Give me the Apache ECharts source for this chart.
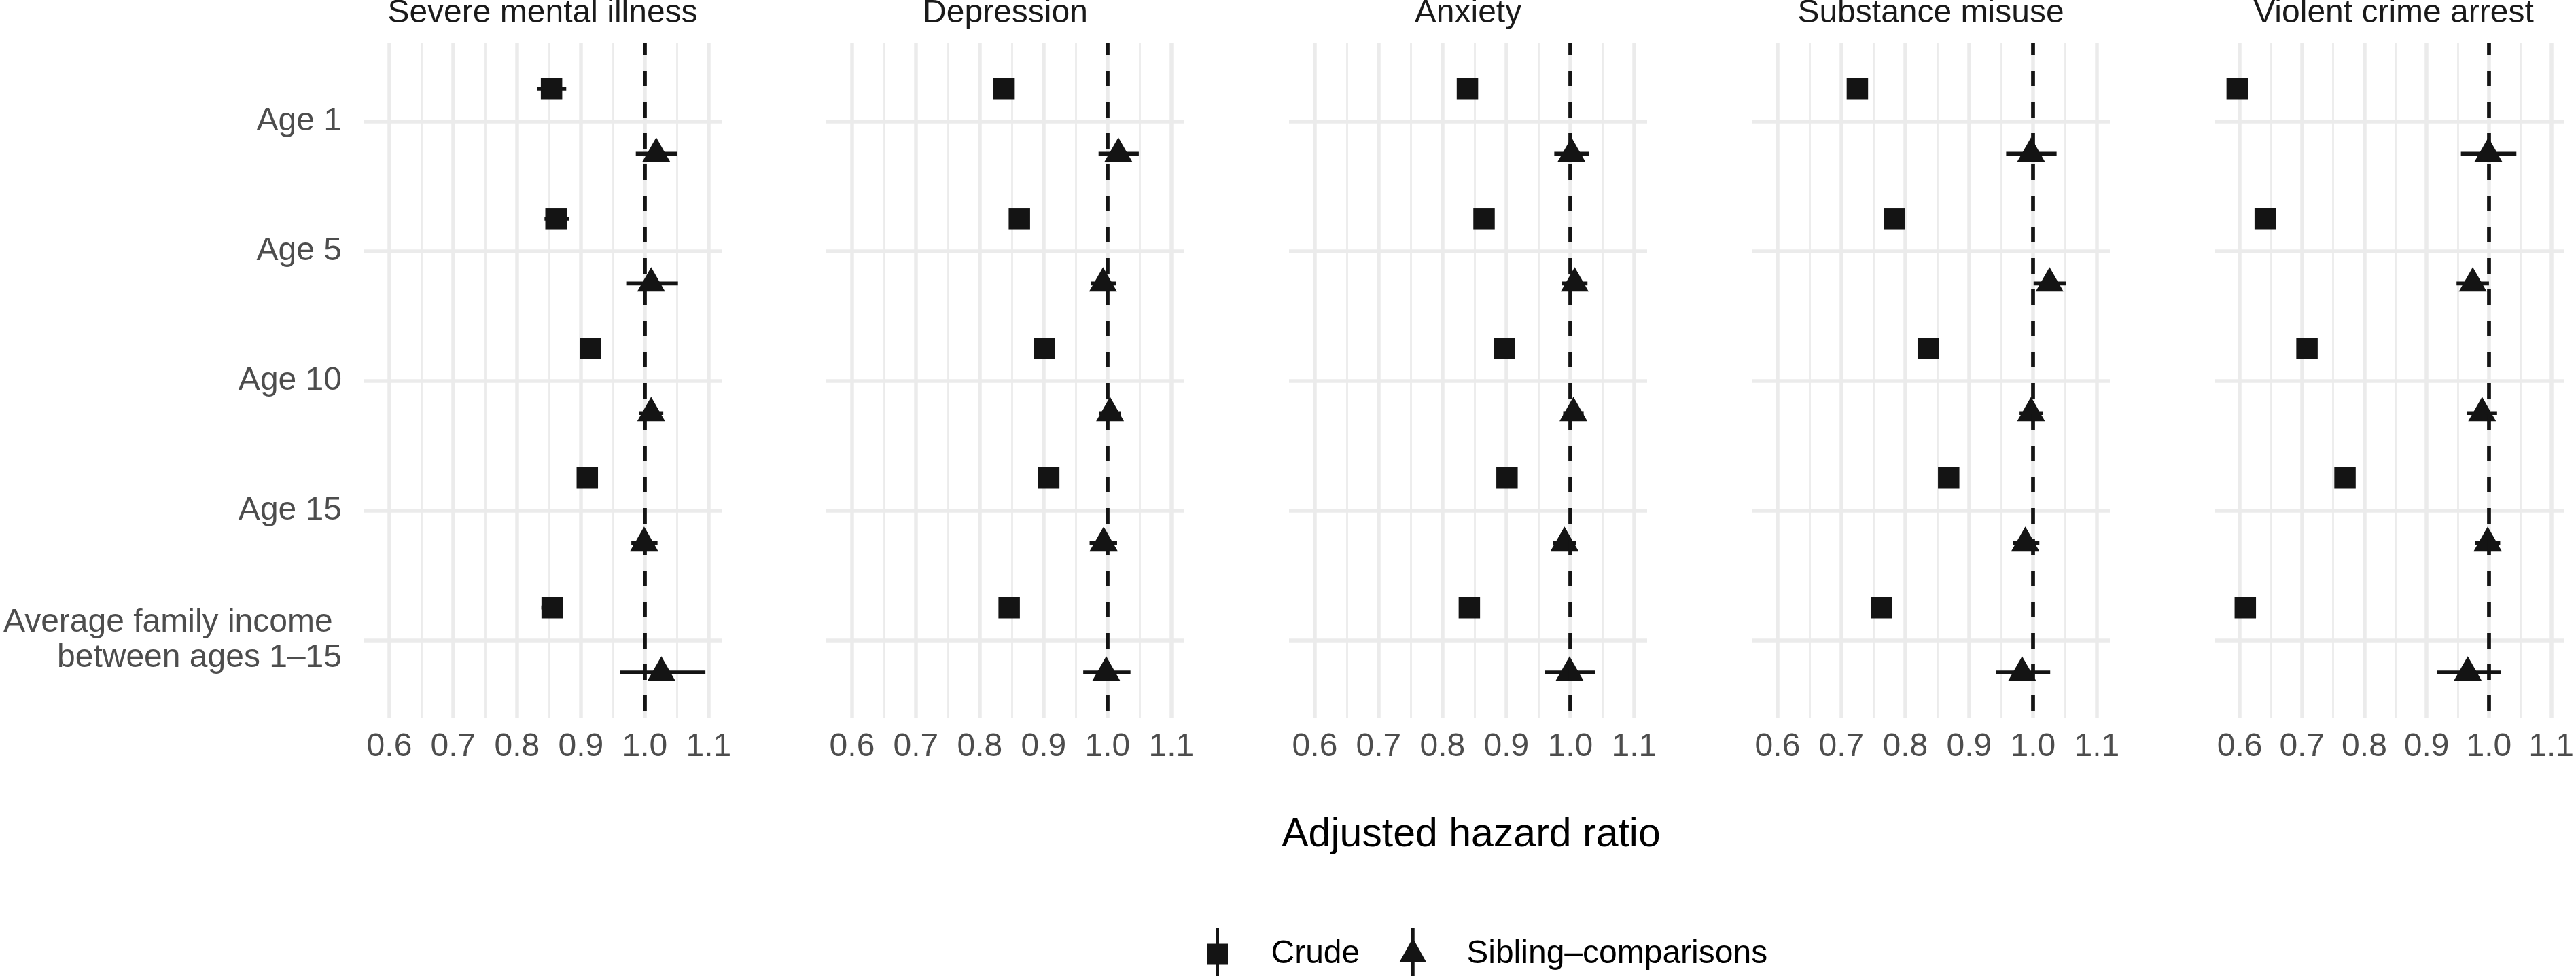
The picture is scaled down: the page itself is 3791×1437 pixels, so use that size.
<!DOCTYPE html>
<html>
<head>
<meta charset="utf-8">
<script src="https://cdn.jsdelivr.net/npm/echarts@6/dist/echarts.min.js"></script>
<style>
html,body{margin:0;padding:0;background:#ffffff;}
#chart{width:3791px;height:1437px;}
</style>
</head>
<body>
<div id="chart"></div>
<script>
// ---------- data ----------
const categories = ['Age 1', 'Age 5', 'Age 10', 'Age 15', 'Average family income \nbetween ages 1\u201315'];
const outcomes = ['Severe mental illness', 'Depression', 'Anxiety', 'Substance misuse', 'Violent crime arrest'];
const xMajorTicks = [0.6, 0.7, 0.8, 0.9, 1.0, 1.1];
const xMinorTicks = [0.65, 0.75, 0.85, 0.95, 1.05];
const xTickLabels = ['0.6', '0.7', '0.8', '0.9', '1.0', '1.1'];
const seriesNames = ['Crude', 'Sibling\u2013comparisons'];
const referenceLine = 1.0;

// Severe mental illness
const smiCrude   = [0.854, 0.861, 0.915, 0.910, 0.855];
const smiCrudeLo = [0.832, 0.843, 0.906, 0.901, 0.838];
const smiCrudeHi = [0.877, 0.881, 0.924, 0.919, 0.872];
const smiSib     = [1.018, 1.010, 1.010, 0.999, 1.026];
const smiSibLo   = [0.986, 0.971, 0.991, 0.979, 0.961];
const smiSibHi   = [1.051, 1.052, 1.029, 1.020, 1.095];

// Depression
const depCrude   = [0.838, 0.862, 0.901, 0.908, 0.846];
const depCrudeLo = [0.829, 0.853, 0.893, 0.899, 0.836];
const depCrudeHi = [0.847, 0.871, 0.909, 0.917, 0.855];
const depSib     = [1.017, 0.993, 1.004, 0.994, 0.998];
const depSibLo   = [0.986, 0.974, 0.987, 0.972, 0.962];
const depSibHi   = [1.049, 1.013, 1.021, 1.015, 1.036];

// Anxiety
const anxCrude   = [0.839, 0.865, 0.897, 0.901, 0.842];
const anxCrudeLo = [0.830, 0.856, 0.889, 0.892, 0.833];
const anxCrudeHi = [0.848, 0.874, 0.905, 0.910, 0.851];
const anxSib     = [1.002, 1.007, 1.005, 0.991, 0.999];
const anxSibLo   = [0.975, 0.987, 0.989, 0.973, 0.960];
const anxSibHi   = [1.029, 1.027, 1.021, 1.009, 1.039];

// Substance misuse
const subCrude   = [0.725, 0.783, 0.836, 0.868, 0.763];
const subCrudeLo = [0.715, 0.774, 0.828, 0.859, 0.753];
const subCrudeHi = [0.735, 0.792, 0.844, 0.877, 0.773];
const subSib     = [0.997, 1.026, 0.997, 0.988, 0.983];
const subSibLo   = [0.958, 1.001, 0.979, 0.969, 0.942];
const subSibHi   = [1.037, 1.052, 1.016, 1.010, 1.027];

// Violent crime arrest
const vioCrude   = [0.596, 0.641, 0.708, 0.769, 0.609];
const vioCrudeLo = [0.586, 0.631, 0.699, 0.760, 0.598];
const vioCrudeHi = [0.606, 0.651, 0.717, 0.778, 0.620];
const vioSib     = [0.999, 0.974, 0.989, 0.998, 0.966];
const vioSibLo   = [0.955, 0.948, 0.965, 0.978, 0.917];
const vioSibHi   = [1.044, 1.000, 1.013, 1.018, 1.019];

// ---------- assemble ----------
const panels = [
  {crude: smiCrude, crudeLo: smiCrudeLo, crudeHi: smiCrudeHi, sib: smiSib, sibLo: smiSibLo, sibHi: smiSibHi},
  {crude: depCrude, crudeLo: depCrudeLo, crudeHi: depCrudeHi, sib: depSib, sibLo: depSibLo, sibHi: depSibHi},
  {crude: anxCrude, crudeLo: anxCrudeLo, crudeHi: anxCrudeHi, sib: anxSib, sibLo: anxSibLo, sibHi: anxSibHi},
  {crude: subCrude, crudeLo: subCrudeLo, crudeHi: subCrudeHi, sib: subSib, sibLo: subSibLo, sibHi: subSibHi},
  {crude: vioCrude, crudeLo: vioCrudeLo, crudeHi: vioCrudeHi, sib: vioSib, sibLo: vioSibLo, sibHi: vioSibHi}
];

const FONT = '"Liberation Sans", Arial, Helvetica, sans-serif';
const FS = 48;
const GRID_LEFT0 = 535, GRID_STEP = 681, GRID_W = 527, GRID_TOP = 64, GRID_H = 993;
const X_MIN = 0.5596, X_MAX = 1.1204;
const Y_MIN = -0.6, Y_MAX = 4.6;
const DODGE = 0.25;
const GRIDCOL = '#ebebeb';
const INK = '#141414';

const grids = [], xAxes = [], yAxes = [], series = [], graphics = [];
const catIdx = categories.map((c, i) => i);

function errorBarRender(params, api) {
  const p1 = api.coord([api.value(0), api.value(2)]);
  const p2 = api.coord([api.value(1), api.value(2)]);
  return {
    type: 'line',
    shape: {x1: p1[0], y1: p1[1], x2: p2[0], y2: p2[1]},
    style: {stroke: INK, lineWidth: 5.7, lineCap: 'butt'}
  };
}

panels.forEach((p, k) => {
  grids.push({left: GRID_LEFT0 + GRID_STEP * k, top: GRID_TOP, width: GRID_W, height: GRID_H});
  // major axis with labels
  xAxes.push({
    type: 'value', gridIndex: k, min: X_MIN, max: X_MAX,
    axisLine: {show: false},
    axisTick: {show: false, customValues: xMajorTicks},
    axisLabel: {
      show: true, customValues: xMajorTicks, margin: 19,
      formatter: v => xTickLabels[xMajorTicks.findIndex(t => Math.abs(t - v) < 1e-6)],
      fontSize: FS, color: '#4d4d4d', fontFamily: FONT
    },
    splitLine: {show: true, lineStyle: {color: GRIDCOL, width: 5.5}}
  });
  // minor grid axis
  xAxes.push({
    type: 'value', gridIndex: k, min: X_MIN, max: X_MAX,
    axisLine: {show: false},
    axisTick: {show: false, customValues: xMinorTicks},
    axisLabel: {show: false, customValues: xMinorTicks},
    splitLine: {show: true, lineStyle: {color: GRIDCOL, width: 2.8}}
  });
  yAxes.push({
    type: 'value', gridIndex: k, min: Y_MIN, max: Y_MAX, inverse: true,
    axisLine: {show: false},
    axisTick: {show: false, customValues: catIdx},
    axisLabel: {
      show: k === 0, customValues: catIdx, margin: 32,
      formatter: v => categories[Math.round(v)],
      fontSize: FS, lineHeight: 52, color: '#4d4d4d', fontFamily: FONT, align: 'right'
    },
    splitLine: {show: true, lineStyle: {color: GRIDCOL, width: 5.5}}
  });

  const xi = 2 * k;
  series.push({
    type: 'custom', xAxisIndex: xi, yAxisIndex: k, renderItem: errorBarRender,
    encode: {x: [0, 1], y: 2}, silent: true, z: 2,
    data: p.crude.map((v, i) => [p.crudeLo[i], p.crudeHi[i], i - DODGE])
  });
  series.push({
    type: 'custom', xAxisIndex: xi, yAxisIndex: k, renderItem: errorBarRender,
    encode: {x: [0, 1], y: 2}, silent: true, z: 2,
    data: p.sib.map((v, i) => [p.sibLo[i], p.sibHi[i], i + DODGE]),
    markLine: {
      silent: true, symbol: ['none', 'none'], label: {show: false}, animation: false,
      lineStyle: {color: INK, width: 5.7, type: [23, 23], dashOffset: 6},
      emphasis: {disabled: true},
      data: [{xAxis: referenceLine}]
    }
  });
  series.push({
    name: seriesNames[0], type: 'scatter', xAxisIndex: xi, yAxisIndex: k, z: 3,
    symbol: 'rect', symbolSize: 31.5, itemStyle: {color: INK, opacity: 1},
    emphasis: {disabled: true}, silent: true,
    data: p.crude.map((v, i) => [v, i - DODGE])
  });
  series.push({
    name: seriesNames[1], type: 'scatter', xAxisIndex: xi, yAxisIndex: k, z: 3,
    symbol: 'triangle', symbolSize: [41, 36], symbolOffset: [0, -6],
    itemStyle: {color: INK, opacity: 1},
    emphasis: {disabled: true}, silent: true,
    data: p.sib.map((v, i) => [v, i + DODGE])
  });

  graphics.push({
    type: 'text', x: GRID_LEFT0 + GRID_STEP * k + GRID_W / 2, y: 20,
    style: {text: outcomes[k], fontSize: FS, fontFamily: FONT, fill: '#1a1a1a', align: 'center', verticalAlign: 'middle'}
  });
});

graphics.push({
  type: 'text', x: 2165, y: 1230,
  style: {text: 'Adjusted hazard ratio', fontSize: 59, fontFamily: FONT, fill: '#000000', align: 'center', verticalAlign: 'middle'}
});

const crudeIcon = 'path://M17.5,0 L22.5,0 L22.5,76 L17.5,76 Z M4.5,22.5 L35.5,22.5 L35.5,53.5 L4.5,53.5 Z';
const sibIcon = 'path://M17.5,0 L22.5,0 L22.5,76 L17.5,76 Z M20,14 L40,50 L0,50 Z';

const option = {
  backgroundColor: '#ffffff',
  animation: false,
  grid: grids,
  xAxis: xAxes,
  yAxis: yAxes,
  series: series,
  graphic: graphics,
  legend: {
    left: 1771, top: 1362, orient: 'horizontal',
    itemWidth: 40, itemHeight: 76, itemGap: 58,
    selectedMode: false,
    textStyle: {fontSize: FS, color: '#000000', fontFamily: FONT, padding: [0, 0, 0, 54]},
    data: [
      {name: seriesNames[0], icon: crudeIcon},
      {name: seriesNames[1], icon: sibIcon}
    ]
  }
};

const chart = echarts.init(document.getElementById('chart'), null, {renderer: 'canvas'});
chart.setOption(option);
</script>
</body>
</html>
